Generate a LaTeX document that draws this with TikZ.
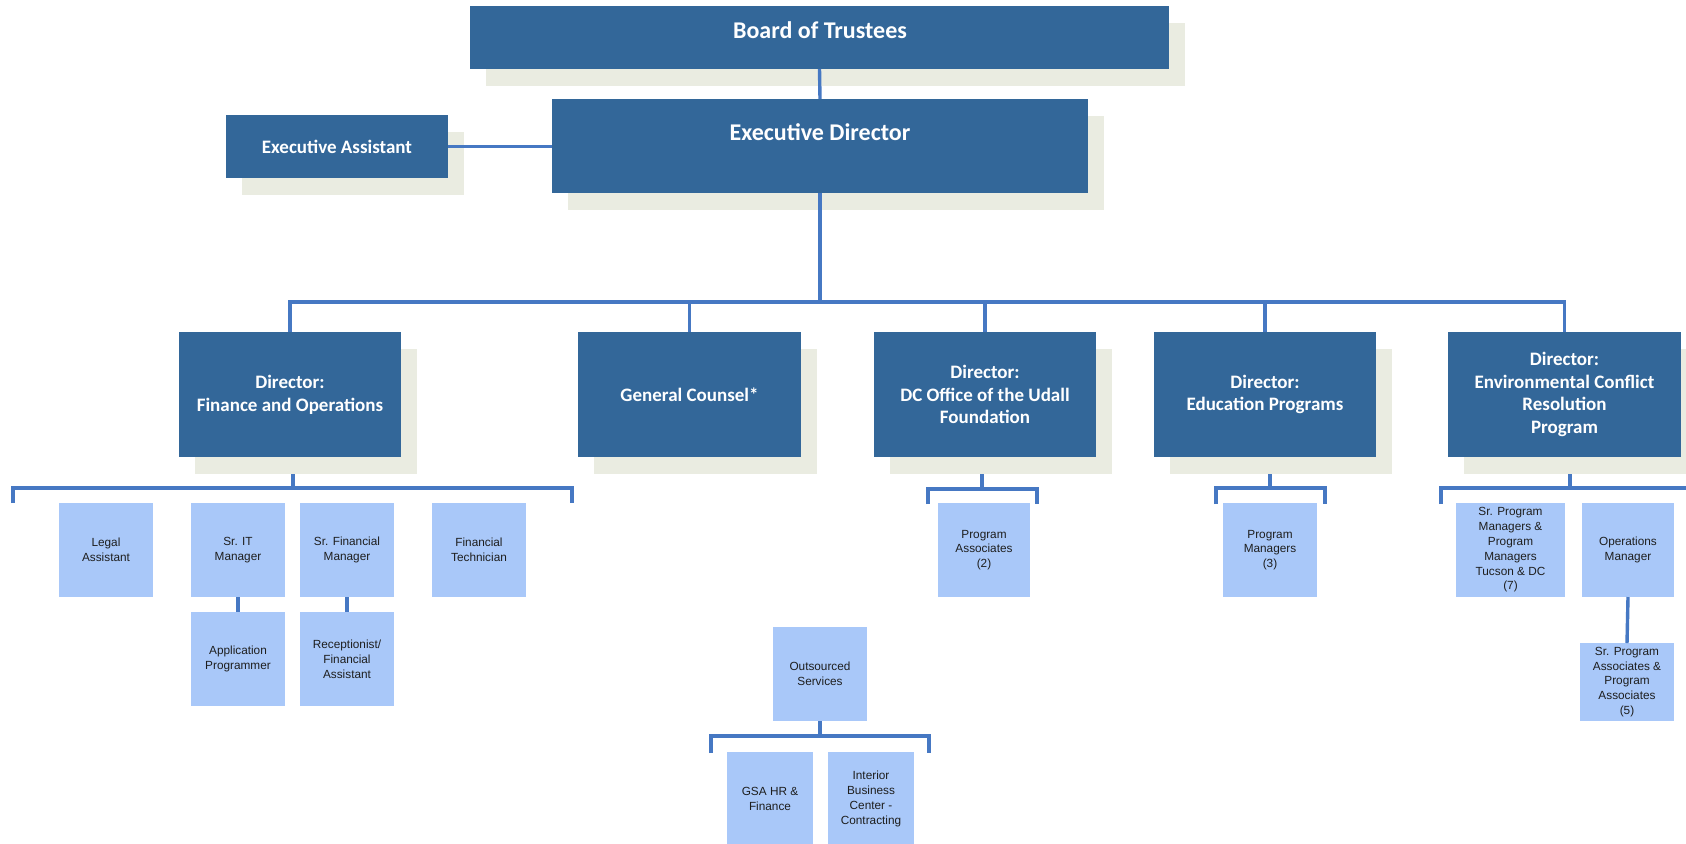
\documentclass[tikz,border=0pt]{standalone}
\usepackage{fontspec}
\setmainfont{Liberation Sans}
\newfontfamily\calfont{Carlito}
\usetikzlibrary{shadows,calc}
\definecolor{darkbox}{RGB}{51,103,153}
\definecolor{shadowc}{RGB}{234,236,225}
\definecolor{lightbox}{RGB}{169,200,249}
\definecolor{linec}{RGB}{70,120,195}
\definecolor{textc}{RGB}{30,30,30}
\begin{document}
\begin{tikzpicture}[x=0.5pt,y=-0.5pt,
  shadowed/.style={drop shadow={shadow xshift=7.75pt, shadow yshift=-8.25pt, fill=shadowc, opacity=1}},
  darkn/.style={inner sep=0pt, outer sep=0pt, fill=darkbox, text=white, shadowed,
    minimum width=111pt, minimum height=62.5pt,
    font=\calfont\bfseries\fontsize{9.5pt}{11.4pt}\selectfont, align=center},
  bigtxt/.style={text=white, inner sep=0pt, font=\calfont\bfseries\fontsize{12pt}{14pt}\selectfont},
  lightn/.style={inner sep=0pt, outer sep=0pt, fill=lightbox, text=textc,
    minimum width=47pt, minimum height=47pt,
    font=\fontsize{5.9pt}{7.4pt}\selectfont, align=center},
  conn/.style={draw=linec, line width=1.7pt}]
\useasboundingbox (0,0) rectangle (1686,843);
\fill[white] (0,0) rectangle (1686,843);

% top levels
\node[darkn, minimum width=349.5pt, minimum height=31.5pt] (board) at (819.5,37.5) {};
\node[bigtxt] (boardt) at (820,30) {Board of Trustees};
\node[darkn, minimum width=268pt, minimum height=47pt] (ed) at (820,146) {};
\node[bigtxt] (edt) at (820,132) {Executive Director};
\node[darkn, minimum height=31.5pt] (ea) at (337,146.5) {Executive Assistant};

% directors
\node[darkn] (fin) at (290,394.5) {Director:\\Finance and Operations};
\node[darkn, minimum width=111.5pt] (gc) at (689.5,394.5) {General Counsel*};
\node[darkn] (dc) at (985,394.5) {Director:\\DC Office of the Udall\\Foundation};
\node[darkn] (edu) at (1265,394.5) {Director:\\Education Programs};
\node[darkn, minimum width=116.5pt] (ecr) at (1564.5,394.5) {Director:\\Environmental Conflict\\Resolution\\Program};

% top connectors
\draw[conn] (board.south) -- (ed.north);
\draw[conn] (ea.east) -- (ed.west |- ea.east);
\coordinate (bus1) at (820,302);
\draw[conn] (ed.south) -- (bus1);
\draw[conn] (fin.north) -- (fin.north |- bus1) -- (ecr.north |- bus1) -- (ecr.north);
\draw[conn] (gc.north) -- (gc.north |- bus1);
\draw[conn] (dc.north) -- (dc.north |- bus1);
\draw[conn] (edu.north) -- (edu.north |- bus1);

% finance group
\node[lightn] (legal) at (106,550) {Legal\\Assistant};
\node[lightn] (srit) at (238,550) {Sr. IT\\Manager};
\node[lightn] (srfin) at (347,550) {Sr. Financial\\Manager};
\node[lightn] (fintech) at (479,550) {Financial\\Technician};
\node[lightn] (app) at (238,659) {Application\\Programmer};
\node[lightn] (recep) at (347,659) {Receptionist/\\Financial\\Assistant};
\coordinate (fbusL) at (13,488);
\coordinate (fbusR) at (572,488);
\coordinate (ftickL) at (13,503);
\coordinate (ftickR) at (572,503);
\draw[conn] (ftickL) -- (fbusL) -- (fbusR) -- (ftickR);
\draw[conn] ($(fin.south)+(3,17)$) coordinate (ftop) -- (ftop |- fbusL);
\draw[conn] (srit.south) -- (app.north);
\draw[conn] (srfin.south) -- (recep.north);

% DC group
\node[lightn, minimum width=46pt] (pa) at (984,550) {Program\\Associates\\(2)};
\coordinate (dbusL) at (928,489);
\coordinate (dbusR) at (1037,489);
\coordinate (dtickL) at (928,504);
\coordinate (dtickR) at (1037,504);
\draw[conn] (dtickL) -- (dbusL) -- (dbusR) -- (dtickR);
\draw[conn] ($(dc.south)+(-3,17)$) coordinate (dtop) -- (dtop |- dbusL);

% Education group
\node[lightn] (pm) at (1270,550) {Program\\Managers\\(3)};
\coordinate (ebusL) at (1216,488);
\coordinate (ebusR) at (1325,488);
\coordinate (etickL) at (1216,504);
\coordinate (etickR) at (1325,504);
\draw[conn] (etickL) -- (ebusL) -- (ebusR) -- (etickR);
\draw[conn] ($(edu.south)+(5,17)$) coordinate (etop) -- (etop |- ebusL);

% ECR group
\node[lightn, minimum width=54.5pt] (spm) at (1510.5,550) {Sr. Program\\Managers \&\\Program\\Managers\\Tucson \& DC\\(7)};
\node[lightn, minimum width=46pt] (opm) at (1628,550) {Operations\\Manager};
\node[lightn, minimum height=39pt] (spa) at (1627,682) {Sr. Program\\Associates \&\\Program\\Associates\\(5)};
\coordinate (cbusL) at (1441,488);
\coordinate (cbusR) at (1686,488);
\coordinate (ctickL) at (1441,504);
\draw[conn] (ctickL) -- (cbusL) -- (cbusR);
\draw[conn] ($(ecr.south)+(5.5,17)$) coordinate (ctop) -- (ctop |- cbusL);
\draw[conn] (opm.south) -- (spa.north);

% Outsourced group
\node[lightn] (os) at (820,674) {Outsourced\\Services};
\node[lightn, minimum width=43pt] (gsa) at (770,799) {GSA HR \&\\Finance};
\node[lightn, minimum width=43pt] (ibc) at (871,799) {Interior\\Business\\Center -\\Contracting};
\coordinate (obusL) at (711,736);
\coordinate (obusR) at (929,736);
\coordinate (otickL) at (711,753);
\coordinate (otickR) at (929,753);
\draw[conn] (otickL) -- (obusL) -- (obusR) -- (otickR);
\draw[conn] (os.south) -- (os.south |- obusL);
\end{tikzpicture}
\end{document}
